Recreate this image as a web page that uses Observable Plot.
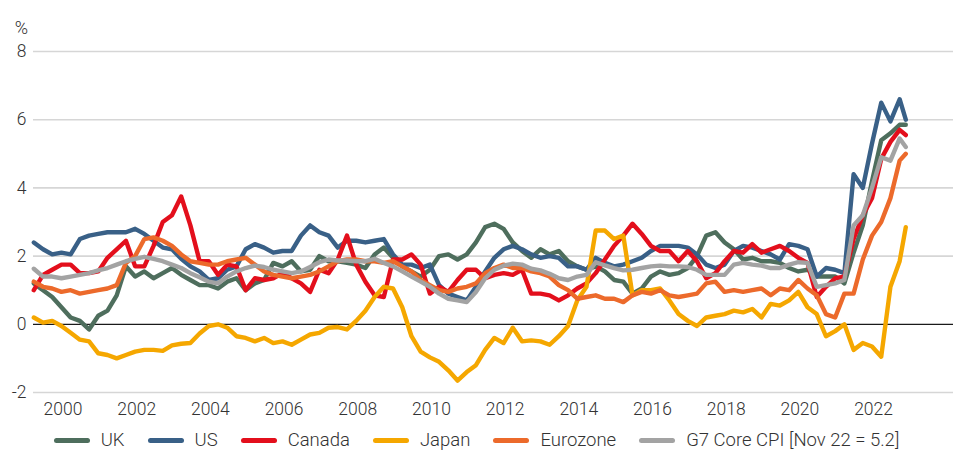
<!DOCTYPE html>
<html>
<head>
<meta charset="utf-8">
<script src="https://cdn.jsdelivr.net/npm/d3@7"></script>
<script src="https://cdn.jsdelivr.net/npm/@observablehq/plot@0.6"></script>
<style>
  html, body { margin: 0; padding: 0; background: #fff; }
  #wrap { width: 953px; position: relative; font-family: Roboto, "Open Sans", sans-serif; font-weight: 300; color: #333; }
  #legend { display: flex; justify-content: center; align-items: center; height: 22px; line-height: 22px; margin-top: 9px; font-size: 18.5px; }
  .item { display: flex; align-items: center; margin: 0 11.5px; }
  .sw { width: 36px; height: 5px; border-radius: 3px; margin-right: 11px; }
</style>
</head>
<body>
<div id="wrap"><div id="chart"></div><div id="legend"></div></div>
<script>
// Quarterly observations (Mar, Jun, Sep, Dec) from 1999 to 2022; last point is Nov 2022
const years = [1999,2000,2001,2002,2003,2004,2005,2006,2007,2008,2009,2010,2011,2012,2013,2014,2015,2016,2017,2018,2019,2020,2021,2022];
const quarterMonths = [3, 6, 9, 12];
const months2022 = [3, 6, 9, 11];

const uk = [
  1.2, 1.0, 0.8, 0.5,   0.2, 0.1, -0.15, 0.25,   0.4, 0.85, 1.7, 1.4,   1.55, 1.35, 1.5, 1.65,
  1.45, 1.3, 1.15, 1.15,   1.05, 1.25, 1.35, 1.0,   1.2, 1.3, 1.8, 1.7,   1.85, 1.55, 1.6, 2.0,
  1.85, 1.85, 1.8, 1.75,   1.65, 2.05, 2.25, 1.95,   1.7, 1.55, 1.4, 1.6,   2.0, 2.05, 1.9, 2.05,
  2.4, 2.85, 2.95, 2.8,   2.4, 2.15, 1.95, 2.2,   2.05, 2.15, 1.85, 1.7,   1.6, 1.7, 1.55, 1.3,
  1.25, 0.9, 1.05, 1.4,   1.55, 1.45, 1.5, 1.65,   2.0, 2.6, 2.7, 2.4,   2.2, 1.9, 1.95, 1.85,
  1.85, 1.8, 1.65, 1.55,   1.6, 1.4, 1.4, 1.4,   1.2, 2.1, 2.9, 4.2,   5.4, 5.6, 5.85, 5.85
];
const us = [
  2.4, 2.2, 2.05, 2.1,   2.05, 2.5, 2.6, 2.65,   2.7, 2.7, 2.7, 2.8,   2.65, 2.45, 2.25, 2.2,
  1.92, 1.7, 1.55, 1.3,   1.35, 1.6, 1.7, 2.2,   2.35, 2.25, 2.1, 2.15,   2.15, 2.6, 2.9, 2.7,
  2.6, 2.25, 2.45, 2.45,   2.4, 2.45, 2.5, 2.05,   1.75, 1.75, 1.65, 1.75,   1.15, 0.9, 0.8, 0.7,
  1.1, 1.55, 1.95, 2.2,   2.3, 2.2, 2.05, 1.95,   2.0, 1.95, 1.7, 1.7,   1.6, 1.95, 1.8, 1.7,
  1.75, 1.85, 1.95, 2.15,   2.3, 2.3, 2.3, 2.25,   2.05, 1.75, 1.65, 1.75,   2.15, 2.3, 2.25, 2.15,
  2.05, 1.9, 2.35, 2.3,   2.2, 1.4, 1.65, 1.6,   1.5, 4.4, 4.0, 5.3,   6.5, 5.95, 6.6, 6.0
];
const canada = [
  1.0, 1.45, 1.6, 1.75,   1.75, 1.5, 1.5, 1.55,   1.95, 2.2, 2.45, 1.7,   1.7, 2.3, 3.0, 3.2,
  3.75, 2.9, 1.85, 1.85,   1.45, 1.75, 1.7, 1.0,   1.35, 1.3, 1.35, 1.5,   1.35, 1.2, 0.95, 1.6,
  1.5, 1.9, 2.6, 1.75,   1.25, 0.85, 0.8, 1.9,   1.9, 2.05, 1.75, 0.9,   1.1, 0.95, 1.3, 1.6,
  1.6, 1.35, 1.45, 1.5,   1.45, 1.6, 0.9, 0.9,   0.85, 0.7, 0.85, 1.05,   1.2, 1.5, 1.9, 2.3,
  2.6, 2.95, 2.65, 2.3,   2.15, 2.15, 1.85, 2.15,   1.85, 1.35, 1.5, 1.85,   2.15, 2.1, 2.35, 2.1,
  2.2, 2.3, 2.15, 1.95,   1.8, 0.8, 1.1, 1.35,   1.4, 2.5, 3.2, 3.7,   4.85, 5.35, 5.7, 5.55
];
const japan = [
  0.2, 0.05, 0.1, -0.05,   -0.25, -0.45, -0.5, -0.85,   -0.9, -1.0, -0.9, -0.8,   -0.75, -0.75, -0.78, -0.62,
  -0.57, -0.55, -0.27, -0.05,   0.0, -0.1, -0.35, -0.4,   -0.5, -0.4, -0.55, -0.5,   -0.6, -0.45, -0.3, -0.25,
  -0.1, -0.08, -0.15, 0.1,   0.4, 0.8, 1.1, 1.05,   0.5, -0.35, -0.8, -0.97,   -1.1, -1.35, -1.65, -1.4,
  -1.2, -0.75, -0.4, -0.55,   -0.1, -0.5, -0.47, -0.5,   -0.6, -0.35, -0.05, 0.7,   1.1, 2.75, 2.75, 2.5,
  2.6, 0.85, 1.0, 1.0,   1.05, 0.7, 0.3, 0.1,   -0.05, 0.2, 0.25, 0.3,   0.4, 0.35, 0.45, 0.2,
  0.6, 0.55, 0.7, 0.95,   0.5, 0.3, -0.35, -0.2,   0.0, -0.75, -0.55, -0.65,   -0.95, 1.1, 1.85, 2.85
];
const eurozone = [
  1.25, 1.1, 1.05, 0.95,   1.0, 0.9, 0.95, 1.0,   1.05, 1.15, 1.8, 2.0,   2.5, 2.55, 2.45, 2.3,
  2.05, 1.85, 1.8, 1.75,   1.75, 1.85, 1.9, 1.95,   1.75, 1.55, 1.45, 1.4,   1.35, 1.4, 1.45, 1.55,
  1.7, 1.85, 1.9, 1.9,   1.85, 1.85, 1.8, 1.85,   1.7, 1.55, 1.3, 1.15,   1.0, 0.95, 1.05, 1.1,
  1.2, 1.5, 1.65, 1.75,   1.65, 1.65, 1.55, 1.5,   1.4, 1.15, 1.0, 0.75,   0.8, 0.85, 0.75, 0.75,
  0.65, 0.85, 0.95, 0.9,   1.0, 0.85, 0.8, 0.85,   0.9, 1.2, 1.25, 0.95,   1.0, 0.95, 1.0, 1.05,
  0.85, 1.05, 1.0, 1.3,   1.05, 0.85, 0.3, 0.2,   0.9, 0.9, 1.9, 2.6,   3.0, 3.7, 4.8, 5.0
];
const g7 = [
  1.63, 1.4, 1.4, 1.35,   1.4, 1.45, 1.5, 1.58,   1.65, 1.75, 1.85, 1.92,   1.98, 1.92, 1.85, 1.75,
  1.65, 1.5, 1.38, 1.25,   1.2, 1.4, 1.55, 1.65,   1.72, 1.68, 1.6, 1.55,   1.5, 1.55, 1.68, 1.82,
  1.9, 1.87, 1.87, 1.85,   1.85, 1.92, 1.8, 1.7,   1.55, 1.4, 1.25, 1.1,   0.9, 0.75, 0.7, 0.65,
  0.95, 1.35, 1.6, 1.72,   1.78, 1.75, 1.63, 1.58,   1.48, 1.35, 1.3, 1.4,   1.45, 1.82, 1.73, 1.65,
  1.58, 1.6, 1.65, 1.7,   1.72, 1.7, 1.7, 1.68,   1.6, 1.45, 1.45, 1.45,   1.75, 1.8, 1.75, 1.72,
  1.65, 1.65, 1.75, 1.82,   1.8, 1.1, 1.15, 1.2,   1.3, 2.9, 3.2, 4.0,   4.9, 4.8, 5.45, 5.2
];

const seriesNames = ["UK", "US", "Canada", "Japan", "Eurozone", "G7 Core CPI [Nov 22 = 5.2]"];
const seriesColors = ["#4e6e5d", "#396087", "#e30f1c", "#f5a700", "#ec6a2b", "#a3a3a3"];
const seriesValues = [uk, us, canada, japan, eurozone, g7];
const yTicks = [-2, 0, 2, 4, 6, 8];
const xTicks = [2000, 2002, 2004, 2006, 2008, 2010, 2012, 2014, 2016, 2018, 2020, 2022];

// decimal time (mid-month) for each observation
const times = [];
for (const y of years) {
  for (const m of (y === 2022 ? months2022 : quarterMonths)) times.push(y + (m - 0.5) / 12);
}

const lineMarks = seriesValues.map((vals, i) =>
  Plot.line(vals.map((v, k) => ({t: times[k], v})), {
    x: "t", y: "v", stroke: seriesColors[i], strokeWidth: 4.4,
    strokeLinejoin: "round", strokeLinecap: "round"
  })
);

const chart = Plot.plot({
  width: 953,
  height: 420,
  marginLeft: 33,
  marginRight: 0,
  marginTop: 51,
  marginBottom: 28,
  style: {fontFamily: "Roboto, 'Open Sans', sans-serif", fontSize: "17.5px", fontWeight: 300, color: "#333", background: "#fff"},
  x: {domain: [1999.2, 2024.17], label: null},
  y: {domain: [-2, 8], label: null},
  marks: [
    Plot.ruleY(yTicks.filter(d => d !== 0), {stroke: "#d6d6d6", strokeWidth: 1.6}),
    Plot.ruleY([0], {stroke: "#1a1a1a", strokeWidth: 1.3}),
    Plot.axisX({ticks: xTicks, tickFormat: d => String(d), tickSize: 0, tickPadding: 10, label: null}),
    Plot.axisY({ticks: yTicks, tickFormat: d => String(d), tickSize: 0, tickPadding: 7, label: null}),
    Plot.text(["%"], {frameAnchor: "top-left", dx: -12, dy: -30, text: d => d, textAnchor: "middle", fontSize: 18}),
    ...lineMarks
  ]
});
document.getElementById("chart").appendChild(chart);

const legend = document.getElementById("legend");
seriesNames.forEach((name, i) => {
  const item = document.createElement("div");
  item.className = "item";
  const sw = document.createElement("span");
  sw.className = "sw";
  sw.style.background = seriesColors[i];
  const lab = document.createElement("span");
  lab.textContent = name;
  item.appendChild(sw);
  item.appendChild(lab);
  legend.appendChild(item);
});
</script>
</body>
</html>
